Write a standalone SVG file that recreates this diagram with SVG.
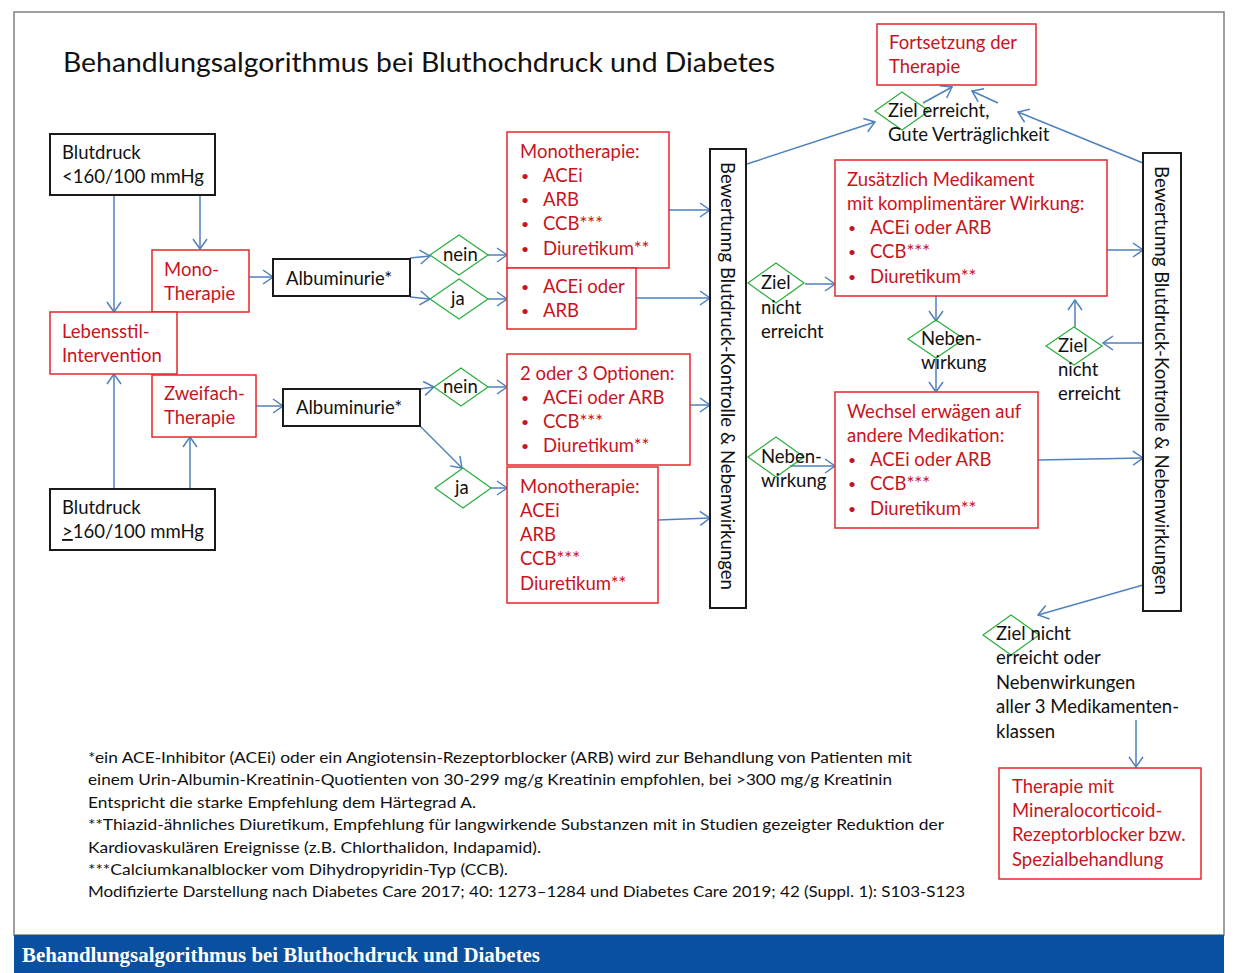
<svg xmlns="http://www.w3.org/2000/svg" width="1256" height="973" viewBox="0 0 1256 973">
<defs>
<marker id="a" viewBox="0 0 12 16" refX="11" refY="8" markerWidth="12" markerHeight="16" markerUnits="userSpaceOnUse" orient="auto">
<path d="M1,1 L11,8 L1,15" fill="none" stroke="#4F81BD" stroke-width="1.5"/>
</marker>
<style>
text{font-family:Lato,"Liberation Sans",sans-serif;font-size:18.5px;fill:#111}
.r{fill:#C8141E}
.b{font-size:14px}
.rb{fill:#fff;stroke:#E8262C;stroke-width:1.5}
.kb{fill:#fff;stroke:#1a1a1a;stroke-width:2}
.d{fill:none;stroke:#2DB040;stroke-width:1.3}
.c path{fill:none;stroke:#4F81BD;stroke-width:1.5;marker-end:url(#a)}
.fn{font-size:16px}
</style>
</defs>
<rect x="0" y="0" width="1256" height="973" fill="#fff"/>
<rect x="14" y="12" width="1210" height="923" fill="#fff" stroke="#808080" stroke-width="1.5"/>
<rect x="14" y="935" width="1210" height="38" fill="#0A50A0"/>
<text x="22" y="962" style="font-family:'Liberation Serif',serif;font-weight:bold;font-size:20px;fill:#fff" textLength="518" lengthAdjust="spacingAndGlyphs">Behandlungsalgorithmus bei Bluthochdruck und Diabetes</text>
<text x="63" y="72" style="font-size:27px" textLength="712" lengthAdjust="spacingAndGlyphs">Behandlungsalgorithmus bei Bluthochdruck und Diabetes</text>

<g class="c" id="connectors">
<path d="M200,195 V249"/>
<path d="M114,195 V312"/>
<path d="M114,489 V374"/>
<path d="M190,489 V437"/>
<path d="M249,277 H273"/>
<path d="M256,406 H283"/>
<path d="M410,258 L430,256"/>
<path d="M410,297 L430,299"/>
<path d="M488,255 H507"/>
<path d="M488,299 H507"/>
<path d="M420,389 L434,387"/>
<path d="M420,426 L462,468"/>
<path d="M488,387 H507"/>
<path d="M491,488 H507"/>
<path d="M669,210 H710"/>
<path d="M636,298 H710"/>
<path d="M690,405 H710"/>
<path d="M658,520 L710,518"/>
<path d="M747,164 L875,122"/>
<path d="M923,103 L952,87"/>
<path d="M998,103 L972,91"/>
<path d="M1143,163 L1018,112"/>
<path d="M805,284 H835"/>
<path d="M790,466 H835"/>
<path d="M936,296 V321"/>
<path d="M936,358 V392"/>
<path d="M1107,250 H1143"/>
<path d="M1038,460 L1143,458"/>
<path d="M1143,343 H1103"/>
<path d="M1075,327 V300"/>
<path d="M1143,585 L1038,615"/>
<path d="M1136,720 V767"/>
</g>

<g id="bp-low"><rect class="kb" x="50" y="134" width="165" height="61"/><text x="62" y="159">Blutdruck</text><text x="62" y="183">&lt;160/100 mmHg</text></g>
<g id="bp-high"><rect class="kb" x="50" y="489" width="165" height="61"/><text x="62" y="514">Blutdruck</text><text x="62" y="538"><tspan text-decoration="underline">&gt;</tspan>160/100 mmHg</text></g>
<g id="mono"><rect class="rb" x="152" y="250" width="97" height="62"/><text class="r" x="164" y="276">Mono-</text><text class="r" x="164" y="300">Therapie</text></g>
<g id="lifestyle"><rect class="rb" x="50" y="312" width="127" height="62"/><text class="r" x="62" y="338">Lebensstil-</text><text class="r" x="62" y="362">Intervention</text></g>
<g id="dual"><rect class="rb" x="152" y="375" width="104" height="62"/><text class="r" x="164" y="400">Zweifach-</text><text class="r" x="164" y="424">Therapie</text></g>
<g id="alb1"><rect class="kb" x="273" y="259" width="137" height="37"/><text x="286" y="285">Albuminurie*</text></g>
<g id="alb2"><rect class="kb" x="283" y="389" width="137" height="37"/><text x="296" y="414">Albuminurie*</text></g>

<g id="nein1"><path class="d" d="M430,255 L459,235 L488,255 L459,275 Z"/><text x="443" y="261">nein</text></g>
<g id="ja1"><path class="d" d="M430,299 L459,279 L488,299 L459,319 Z"/><text x="451" y="305">ja</text></g>
<g id="nein2"><path class="d" d="M434,387 L461,368 L488,387 L461,406 Z"/><text x="443" y="393">nein</text></g>
<g id="ja2"><path class="d" d="M435,488 L463,468 L491,488 L463,508 Z"/><text x="455" y="494">ja</text></g>

<g id="mono-list"><rect class="rb" x="507" y="132" width="162" height="136"/>
<text class="r" x="520" y="158">Monotherapie:</text>
<text class="r" x="521" y="181"><tspan class="b">•</tspan><tspan x="543" y="182">ACEi</tspan></text>
<text class="r" x="521" y="205"><tspan class="b">•</tspan><tspan x="543" y="206">ARB</tspan></text>
<text class="r" x="521" y="229"><tspan class="b">•</tspan><tspan x="543" y="230">CCB***</tspan></text>
<text class="r" x="521" y="254"><tspan class="b">•</tspan><tspan x="543" y="255">Diuretikum**</tspan></text></g>
<g id="acei-arb"><rect class="rb" x="507" y="268" width="129" height="61"/>
<text class="r" x="521" y="292"><tspan class="b">•</tspan><tspan x="543" y="293">ACEi oder</tspan></text>
<text class="r" x="521" y="316"><tspan class="b">•</tspan><tspan x="543" y="317">ARB</tspan></text></g>
<g id="options"><rect class="rb" x="507" y="354" width="183" height="111"/>
<text class="r" x="520" y="380">2 oder 3 Optionen:</text>
<text class="r" x="521" y="403"><tspan class="b">•</tspan><tspan x="543" y="404">ACEi oder ARB</tspan></text>
<text class="r" x="521" y="427"><tspan class="b">•</tspan><tspan x="543" y="428">CCB***</tspan></text>
<text class="r" x="521" y="451"><tspan class="b">•</tspan><tspan x="543" y="452">Diuretikum**</tspan></text></g>
<g id="mono2"><rect class="rb" x="507" y="467" width="151" height="136"/>
<text class="r" x="520" y="493">Monotherapie:</text>
<text class="r" x="520" y="517">ACEi</text>
<text class="r" x="520" y="541">ARB</text>
<text class="r" x="520" y="565">CCB***</text>
<text class="r" x="520" y="590">Diuretikum**</text></g>

<g id="eval1"><rect class="kb" x="710" y="149" width="36" height="459"/>
<text transform="translate(721,162) rotate(90)" textLength="428" lengthAdjust="spacingAndGlyphs">Bewertunng Blutdruck-Kontrolle &amp; Nebenwirkungen</text></g>
<g id="eval2"><rect class="kb" x="1143" y="153" width="38" height="458"/>
<text transform="translate(1155,166) rotate(90)" textLength="429" lengthAdjust="spacingAndGlyphs">Bewertunng Blutdruck-Kontrolle &amp; Nebenwirkungen</text></g>

<g id="continue"><rect class="rb" x="877" y="24" width="159" height="61"/><text class="r" x="889" y="49">Fortsetzung der</text><text class="r" x="889" y="73">Therapie</text></g>
<g id="goal-ok"><path class="d" d="M875,111 L902,92 L929,111 L902,130 Z"/><text x="888" y="117">Ziel erreicht,</text><text x="888" y="141">Gute Verträglichkeit</text></g>

<g id="goal-miss1"><path class="d" d="M748,283 L776,263 L804,283 L776,303 Z"/><text x="761" y="289">Ziel</text><text x="761" y="314">nicht</text><text x="761" y="338">erreicht</text></g>
<g id="side1"><path class="d" d="M748,457 L776,437 L804,457 L776,477 Z"/><text x="761" y="463">Neben-</text><text x="761" y="487">wirkung</text></g>

<g id="add"><rect class="rb" x="835" y="160" width="272" height="136"/>
<text class="r" x="847" y="186">Zusätzlich Medikament</text>
<text class="r" x="847" y="210">mit komplimentärer Wirkung:</text>
<text class="r" x="848" y="233"><tspan class="b">•</tspan><tspan x="870" y="234">ACEi oder ARB</tspan></text>
<text class="r" x="848" y="257"><tspan class="b">•</tspan><tspan x="870" y="258">CCB***</tspan></text>
<text class="r" x="848" y="282"><tspan class="b">•</tspan><tspan x="870" y="283">Diuretikum**</tspan></text></g>

<g id="side2"><path class="d" d="M908,339 L936,320 L964,339 L936,358 Z"/><text x="921" y="345">Neben-</text><text x="921" y="369">wirkung</text></g>
<g id="goal-miss2"><path class="d" d="M1046,346 L1074,327 L1102,346 L1074,365 Z"/><text x="1058" y="352">Ziel</text><text x="1058" y="376">nicht</text><text x="1058" y="400">erreicht</text></g>

<g id="switch"><rect class="rb" x="835" y="392" width="203" height="136"/>
<text class="r" x="847" y="418">Wechsel erwägen auf</text>
<text class="r" x="847" y="442">andere Medikation:</text>
<text class="r" x="848" y="465"><tspan class="b">•</tspan><tspan x="870" y="466">ACEi oder ARB</tspan></text>
<text class="r" x="848" y="489"><tspan class="b">•</tspan><tspan x="870" y="490">CCB***</tspan></text>
<text class="r" x="848" y="514"><tspan class="b">•</tspan><tspan x="870" y="515">Diuretikum**</tspan></text></g>

<g id="goal-miss3"><path class="d" d="M983,635 L1011,615 L1039,635 L1011,655 Z"/>
<text x="996" y="640">Ziel nicht</text><text x="996" y="664">erreicht oder</text><text x="996" y="689">Nebenwirkungen</text><text x="996" y="713">aller 3 Medikamenten-</text><text x="996" y="738">klassen</text></g>

<g id="mra"><rect class="rb" x="999" y="768" width="202" height="111"/>
<text class="r" x="1012" y="793">Therapie mit</text><text class="r" x="1012" y="817">Mineralocorticoid-</text><text class="r" x="1012" y="841">Rezeptorblocker bzw.</text><text class="r" x="1012" y="866">Spezialbehandlung</text></g>

<g id="footnotes">
<text class="fn" x="88" y="763" textLength="824" lengthAdjust="spacingAndGlyphs">*ein ACE-Inhibitor (ACEi) oder ein Angiotensin-Rezeptorblocker (ARB) wird zur Behandlung von Patienten mit</text>
<text class="fn" x="88" y="785" textLength="804" lengthAdjust="spacingAndGlyphs">einem Urin-Albumin-Kreatinin-Quotienten von 30-299 mg/g Kreatinin empfohlen, bei &gt;300 mg/g Kreatinin</text>
<text class="fn" x="88" y="808" textLength="388" lengthAdjust="spacingAndGlyphs">Entspricht die starke Empfehlung dem Härtegrad A.</text>
<text class="fn" x="88" y="830" textLength="856" lengthAdjust="spacingAndGlyphs">**Thiazid-ähnliches Diuretikum, Empfehlung für langwirkende Substanzen mit in Studien gezeigter Reduktion der</text>
<text class="fn" x="88" y="853" textLength="453" lengthAdjust="spacingAndGlyphs">Kardiovaskulären Ereignisse (z.B. Chlorthalidon, Indapamid).</text>
<text class="fn" x="88" y="875" textLength="420" lengthAdjust="spacingAndGlyphs">***Calciumkanalblocker vom Dihydropyridin-Typ (CCB).</text>
<text class="fn" x="88" y="897" textLength="877" lengthAdjust="spacingAndGlyphs">Modifizierte Darstellung nach Diabetes Care 2017; 40: 1273–1284 und Diabetes Care 2019; 42 (Suppl. 1): S103-S123</text>
</g>
</svg>
